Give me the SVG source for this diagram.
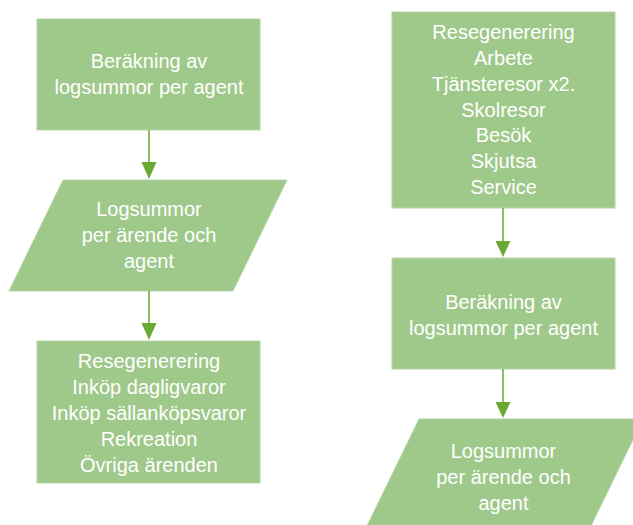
<svg xmlns="http://www.w3.org/2000/svg" width="633" height="525" viewBox="0 0 633 525">
<style>
.n{fill:#9FC98A;stroke:#B5D6A5;stroke-width:1}
.t{font-family:"Liberation Sans",Arial,sans-serif;font-size:20px;fill:#FFFFFF;text-anchor:middle}
.c{stroke:#6AAA32;stroke-width:1.5;fill:none}
.h{fill:#6AAA32}
</style>
<rect width="633" height="525" fill="#FFFFFF"/>
<g id="n1"><rect class="n" x="37" y="19" width="223" height="111"/>
<text class="t" x="149" y="68">Beräkning av</text>
<text class="t" x="149" y="94">logsummor per agent</text></g>
<g id="n2"><polygon class="n" points="63,180 287,180 233,291 9,291"/>
<text class="t" x="149" y="216">Logsummor</text>
<text class="t" x="149" y="242">per ärende och</text>
<text class="t" x="149" y="268">agent</text></g>
<g id="n3"><rect class="n" x="37" y="341" width="223" height="142"/>
<text class="t" x="149" y="368">Resegenerering</text>
<text class="t" x="149" y="394">Inköp dagligvaror</text>
<text class="t" x="149" y="420">Inköp sällanköpsvaror</text>
<text class="t" x="149" y="446">Rekreation</text>
<text class="t" x="149" y="472">Övriga ärenden</text></g>
<g id="n4"><rect class="n" x="392" y="12" width="223" height="196"/>
<text class="t" x="503.5" y="39">Resegenerering</text>
<text class="t" x="503.5" y="65">Arbete</text>
<text class="t" x="503.5" y="91">Tjänsteresor x2.</text>
<text class="t" x="503.5" y="117">Skolresor</text>
<text class="t" x="503.5" y="142">Besök</text>
<text class="t" x="503.5" y="168">Skjutsa</text>
<text class="t" x="503.5" y="194">Service</text></g>
<g id="n5"><rect class="n" x="392" y="258" width="223" height="111"/>
<text class="t" x="503.5" y="309">Beräkning av</text>
<text class="t" x="503.5" y="335">logsummor per agent</text></g>
<g id="n6"><polygon class="n" points="419,419 643,419 589,530 365,530"/>
<text class="t" x="503.5" y="458">Logsummor</text>
<text class="t" x="503.5" y="484">per ärende och</text>
<text class="t" x="503.5" y="510">agent</text></g>
<g id="connectors">
<line class="c" x1="149" y1="130" x2="149" y2="163"/><polygon class="h" points="141.5,162 156.5,162 149,179"/>
<line class="c" x1="149" y1="291" x2="149" y2="324"/><polygon class="h" points="141.5,323 156.5,323 149,340"/>
<line class="c" x1="503" y1="208" x2="503" y2="242"/><polygon class="h" points="495.5,241 510.5,241 503,257"/>
<line class="c" x1="503" y1="369" x2="503" y2="403"/><polygon class="h" points="495.5,402 510.5,402 503,418"/>
</g>
</svg>
